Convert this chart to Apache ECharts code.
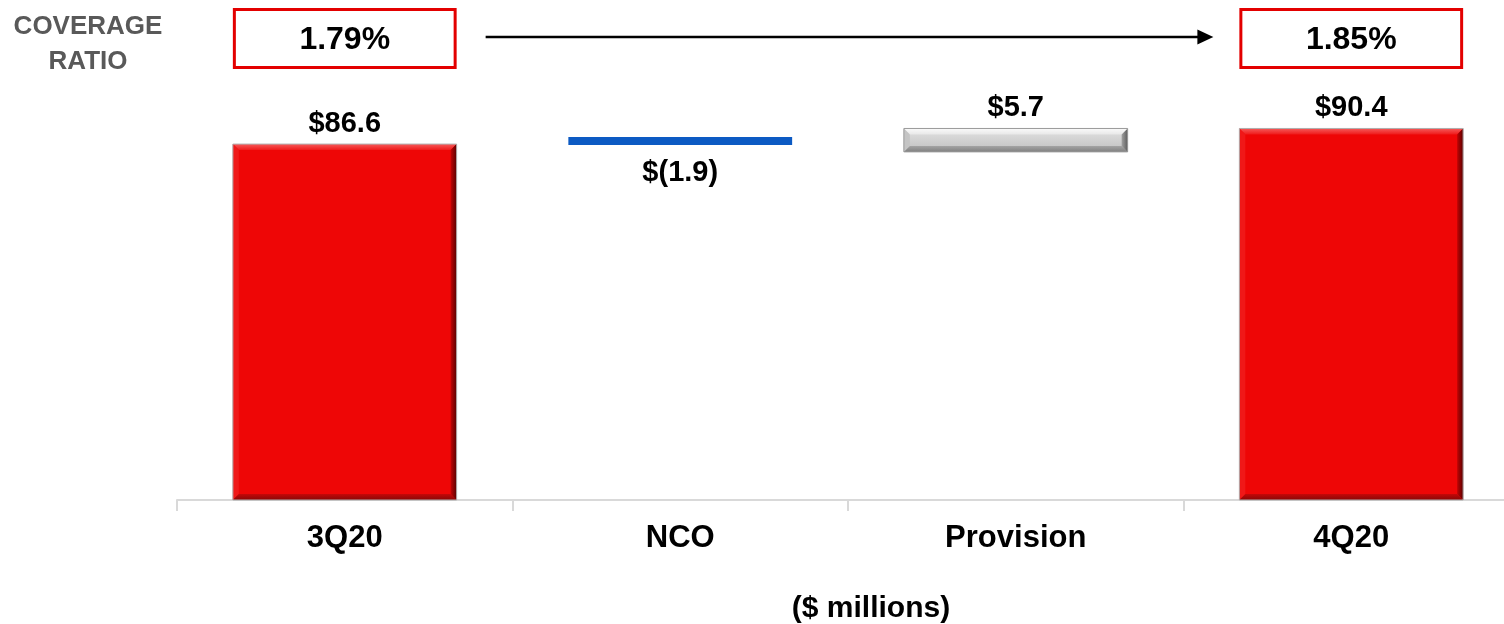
<!DOCTYPE html>
<html>
<head>
<meta charset="utf-8">
<script src="https://cdn.jsdelivr.net/npm/echarts@6/dist/echarts.min.js"></script>
<style>
  html, body { margin: 0; padding: 0; background: #fff; }
  #chart { width: 1504px; height: 624px; }
</style>
</head>
<body>
<div id="chart"></div>
<script>
const categories = ['3Q20', 'NCO', 'Provision', '4Q20'];
const barBases = [0, 86.4, 84.7, 0];
const barAmounts = [86.6, 1.9, 5.7, 90.4];
const barKinds = ['total', 'decrease', 'increase', 'total'];
const valueLabels = ['$86.6', '$(1.9)', '$5.7', '$90.4'];
const ratioCategories = ['3Q20', '4Q20'];
const ratioLabels = ['1.79%', '1.85%'];

const FONT = '"Liberation Sans", Arial, sans-serif';
const LG = echarts.graphic.LinearGradient;

const kindStyles = {
  total: {
    body: '#EE0606',
    top: new LG(0, 0, 0, 1, [{ offset: 0, color: '#F65A5A' }, { offset: 1, color: '#EF1A1A' }]),
    left: '#F01818',
    right: new LG(0, 0, 1, 0, [{ offset: 0, color: '#C00404' }, { offset: 1, color: '#5A0000' }]),
    bottom: new LG(0, 0, 0, 1, [{ offset: 0, color: '#C40808' }, { offset: 1, color: '#8A0606' }]),
    bevel: 6,
    outline: '#B0B0B0',
  },
  increase: {
    body: new LG(0, 0, 0, 1, [{ offset: 0, color: '#E2E2E2' }, { offset: 1, color: '#C0C0C0' }]),
    top: new LG(0, 0, 0, 1, [{ offset: 0, color: '#FAFAFA' }, { offset: 1, color: '#E8E8E8' }]),
    left: '#C4C4C4',
    right: new LG(0, 0, 1, 0, [{ offset: 0, color: '#A0A0A0' }, { offset: 1, color: '#5E5E5E' }]),
    bottom: new LG(0, 0, 0, 1, [{ offset: 0, color: '#A4A4A4' }, { offset: 1, color: '#808080' }]),
    bevel: 6,
    outline: '#9A9A9A',
  },
  decrease: {
    body: '#0C5AC3',
    bevel: 0,
  },
};

function renderBar(params, api) {
  const idx = api.value(0);
  const low = api.value(1);
  const high = api.value(2);
  const pTop = api.coord([idx, high]);
  const pBot = api.coord([idx, low]);
  const w = api.size([1, 0])[0] * 0.667;
  const x0 = pTop[0] - w / 2;
  const x1 = pTop[0] + w / 2;
  const y0 = pTop[1];
  const y1 = pBot[1];
  const kind = barKinds[params.dataIndex];
  const st = kindStyles[kind];
  const children = [{
    type: 'rect',
    shape: { x: x0, y: y0, width: w, height: y1 - y0 },
    style: { fill: st.body },
  }];
  const b = st.bevel;
  if (b > 0) {
    children.push(
      { type: 'polygon', shape: { points: [[x0, y0], [x1, y0], [x1 - b, y0 + b], [x0 + b, y0 + b]] }, style: { fill: st.top } },
      { type: 'polygon', shape: { points: [[x0, y0], [x0 + b, y0 + b], [x0 + b, y1 - b], [x0, y1]] }, style: { fill: st.left } },
      { type: 'polygon', shape: { points: [[x0, y1], [x1, y1], [x1 - b, y1 - b], [x0 + b, y1 - b]] }, style: { fill: st.bottom } },
      { type: 'polygon', shape: { points: [[x1, y0], [x1 - b, y0 + b], [x1 - b, y1 - b], [x1, y1]] }, style: { fill: st.right } },
      { type: 'rect', shape: { x: x0, y: y0, width: w, height: y1 - y0 }, style: { fill: null, stroke: st.outline, lineWidth: 1 } }
    );
  }
  const below = kind === 'decrease';
  children.push({
    type: 'text',
    style: {
      text: valueLabels[params.dataIndex],
      x: pTop[0],
      y: below ? y1 + 14 : y0 - 6,
      align: 'center',
      verticalAlign: below ? 'top' : 'bottom',
      font: 'bold 29px ' + FONT,
      fill: '#000',
    },
  });
  return { type: 'group', children };
}

const chart = echarts.init(document.getElementById('chart'));

chart.setOption({
  animation: false,
  grid: { left: 177, top: 89, bottom: 124, right: -15, outerBoundsMode: 'none', containLabel: false },
  xAxis: {
    type: 'category',
    data: categories,
    axisLine: { lineStyle: { color: '#D9D9D9', width: 2 } },
    axisTick: { show: true, alignWithLabel: false, length: 11, lineStyle: { color: '#D9D9D9', width: 2 } },
    axisLabel: {
      margin: 23,
      fontSize: 31,
      fontWeight: 'bold',
      fontFamily: FONT,
      color: '#000',
    },
  },
  yAxis: {
    type: 'value',
    min: 0,
    max: 100,
    show: false,
  },
  series: [{
    type: 'custom',
    renderItem: renderBar,
    encode: { x: 0, y: [1, 2] },
    data: categories.map((c, i) => [i, barBases[i], barBases[i] + barAmounts[i]]),
  }],
});

// coverage ratio boxes and arrow above the total bars
const boxW = chart.convertToPixel({ xAxisIndex: 0 }, 1) - chart.convertToPixel({ xAxisIndex: 0 }, 0);
const bw = boxW * 0.667;
const centers = ratioCategories.map((c) => chart.convertToPixel({ xAxisIndex: 0 }, c));
const graphics = [];
centers.forEach((cx, i) => {
  graphics.push({
    type: 'rect',
    shape: { x: cx - bw / 2 + 1.5, y: 9.5, width: bw - 3, height: 58 },
    style: { fill: '#fff', stroke: '#E30000', lineWidth: 3 },
  });
  graphics.push({
    type: 'text',
    style: {
      text: ratioLabels[i],
      x: cx,
      y: 40,
      align: 'center',
      verticalAlign: 'middle',
      font: 'bold 32px ' + FONT,
      fill: '#000',
    },
  });
});
const arrowStart = centers[0] + bw / 2 + 29;
const arrowEnd = centers[1] - bw / 2 - 26;
graphics.push({
  type: 'line',
  shape: { x1: arrowStart, y1: 37, x2: arrowEnd - 15, y2: 37 },
  style: { stroke: '#000', lineWidth: 2.5 },
});
graphics.push({
  type: 'polygon',
  shape: { points: [[arrowEnd - 16, 29.5], [arrowEnd, 37], [arrowEnd - 16, 44.5]] },
  style: { fill: '#000' },
});
graphics.push({
  type: 'text',
  style: {
    text: 'COVERAGE\nRATIO',
    x: 88,
    y: 9,
    align: 'center',
    verticalAlign: 'top',
    font: 'bold 26px ' + FONT,
    lineHeight: 35,
    fill: '#595959',
  },
});
graphics.push({
  type: 'text',
  style: {
    text: '($ millions)',
    x: 871,
    y: 609,
    align: 'center',
    verticalAlign: 'middle',
    font: 'bold 30px ' + FONT,
    fill: '#000',
  },
});
chart.setOption({ graphic: graphics });
</script>
</body>
</html>
